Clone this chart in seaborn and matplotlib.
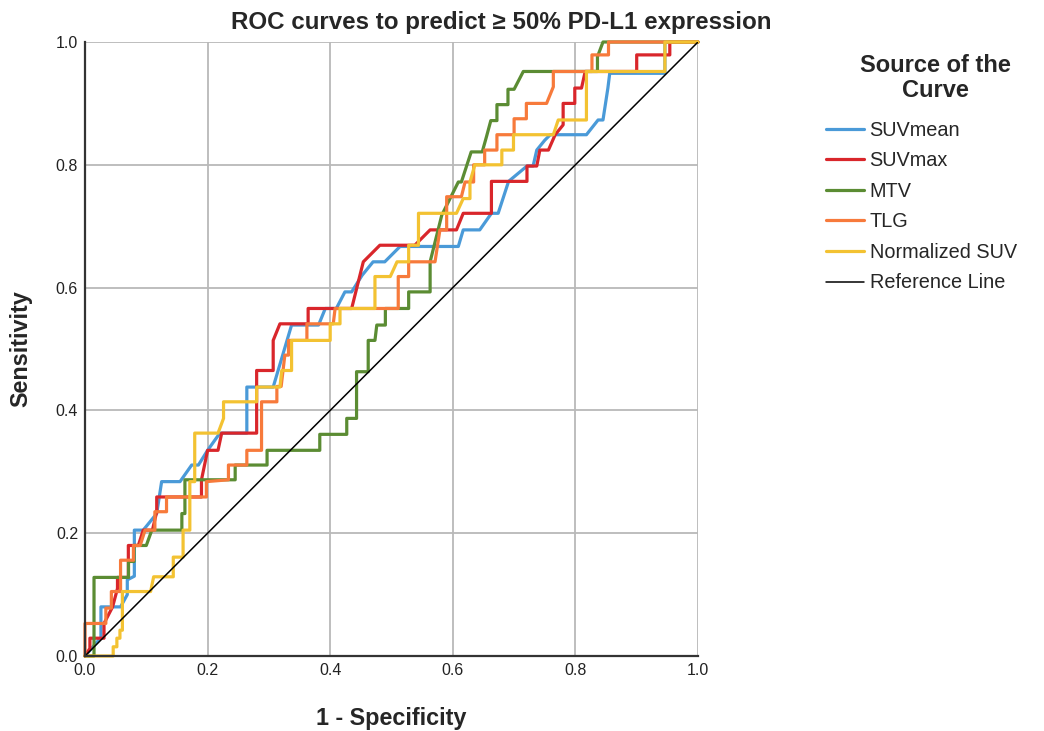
import numpy as np
import pandas as pd
import matplotlib
matplotlib.use("Agg")
import matplotlib.pyplot as plt
from matplotlib.lines import Line2D
import seaborn as sns

# ---------------- data ----------------
curve_names = ["SUVmean", "SUVmax", "MTV", "TLG", "Normalized SUV"]
curve_colors = ["#4a9ad8", "#d9262b", "#5b8c33", "#f77a3b", "#f3c232"]

suvmean_fpr = [0, 0.026, 0.026, 0.058, 0.069, 0.069, 0.0805, 0.0805, 0.095, 0.117, 0.125, 0.155, 0.174,
               0.185, 0.2, 0.22, 0.264, 0.264, 0.307, 0.337, 0.381, 0.392, 0.41, 0.424, 0.435, 0.452,
               0.47, 0.489, 0.514, 0.609, 0.617, 0.644, 0.663, 0.674, 0.691, 0.721, 0.731, 0.737, 0.75,
               0.759, 0.818, 0.837, 0.845, 0.853, 0.856, 0.946, 0.946, 1.0]
suvmean_tpr = [0, 0.03, 0.08, 0.08, 0.10, 0.124, 0.13, 0.205, 0.205, 0.232, 0.284, 0.284, 0.311,
               0.311, 0.335, 0.363, 0.363, 0.438, 0.438, 0.539, 0.539, 0.566, 0.566, 0.593, 0.593, 0.62,
               0.642, 0.642, 0.667, 0.667, 0.694, 0.694, 0.721, 0.721, 0.773, 0.798, 0.798, 0.824, 0.84,
               0.849, 0.849, 0.873, 0.873, 0.925, 0.949, 0.949, 1.0, 1.0]

suvmax_fpr = [0, 0.008, 0.008, 0.031, 0.031, 0.045, 0.053, 0.053, 0.0707, 0.0707, 0.087, 0.095, 0.11,
              0.117, 0.117, 0.19, 0.19, 0.2, 0.217, 0.223, 0.28, 0.28, 0.307, 0.307, 0.318, 0.364, 0.364,
              0.435, 0.454, 0.481, 0.538, 0.563, 0.606, 0.617, 0.663, 0.663, 0.721, 0.721, 0.737, 0.742,
              0.756, 0.767, 0.78, 0.78, 0.799, 0.799, 0.81, 0.816, 0.9, 0.9, 0.954, 0.954, 1.0]
suvmax_tpr = [0, 0.0125, 0.029, 0.029, 0.053, 0.08, 0.11, 0.128, 0.128, 0.18, 0.18, 0.205, 0.205,
              0.235, 0.259, 0.259, 0.287, 0.335, 0.335, 0.363, 0.363, 0.465, 0.465, 0.514, 0.541, 0.541, 0.566,
              0.566, 0.642, 0.669, 0.669, 0.694, 0.694, 0.721, 0.721, 0.773, 0.773, 0.798, 0.798, 0.824,
              0.824, 0.849, 0.865, 0.9, 0.9, 0.925, 0.925, 0.952, 0.952, 0.979, 0.979, 1.0, 1.0]

mtv_fpr = [0, 0.0147, 0.0147, 0.071, 0.071, 0.08, 0.08, 0.1, 0.109, 0.158, 0.158, 0.163, 0.163, 0.245,
           0.245, 0.297, 0.297, 0.383, 0.383, 0.427, 0.427, 0.443, 0.443, 0.462, 0.462, 0.473, 0.476, 0.49,
           0.49, 0.528, 0.528, 0.563, 0.563, 0.582, 0.609, 0.614, 0.63, 0.648, 0.655, 0.662, 0.672, 0.672,
           0.69, 0.69, 0.70, 0.715, 0.836, 0.836, 0.845, 1.0]
mtv_tpr = [0, 0, 0.128, 0.128, 0.154, 0.154, 0.18, 0.18, 0.205, 0.205, 0.232, 0.232, 0.287, 0.287,
           0.311, 0.311, 0.335, 0.335, 0.361, 0.361, 0.387, 0.387, 0.463, 0.463, 0.514, 0.514, 0.539, 0.539,
           0.566, 0.566, 0.593, 0.593, 0.642, 0.718, 0.772, 0.772, 0.821, 0.821, 0.846, 0.872, 0.872, 0.898,
           0.898, 0.923, 0.923, 0.952, 0.952, 0.976, 1.0, 1.0]

tlg_fpr = [0, 0, 0.034, 0.034, 0.043, 0.043, 0.058, 0.058, 0.079, 0.079, 0.09, 0.098, 0.114, 0.114, 0.133,
           0.133, 0.198, 0.198, 0.234, 0.234, 0.264, 0.264, 0.288, 0.288, 0.313, 0.313, 0.32, 0.326, 0.332,
           0.332, 0.362, 0.362, 0.405, 0.408, 0.511, 0.511, 0.528, 0.528, 0.571, 0.579, 0.59, 0.59, 0.614,
           0.62, 0.634, 0.634, 0.652, 0.652, 0.672, 0.672, 0.70, 0.70, 0.72, 0.72, 0.753, 0.764, 0.764,
           0.827, 0.827, 0.854, 0.854, 1.0]
tlg_tpr = [0, 0.053, 0.053, 0.078, 0.078, 0.105, 0.105, 0.156, 0.156, 0.18, 0.18, 0.205, 0.205, 0.235, 0.235,
           0.259, 0.259, 0.284, 0.287, 0.311, 0.311, 0.335, 0.335, 0.414, 0.414, 0.439, 0.439, 0.49, 0.49,
           0.514, 0.514, 0.541, 0.541, 0.566, 0.566, 0.618, 0.618, 0.642, 0.642, 0.694, 0.694, 0.748, 0.748,
           0.772, 0.772, 0.80, 0.80, 0.824, 0.824, 0.849, 0.849, 0.875, 0.875, 0.90, 0.90, 0.927, 0.952,
           0.952, 0.979, 0.979, 1.0, 1.0]

nsuv_fpr = [0, 0.046, 0.046, 0.052, 0.052, 0.057, 0.057, 0.061, 0.061, 0.107, 0.112, 0.144, 0.144, 0.16,
            0.16, 0.171, 0.171, 0.179, 0.179, 0.217, 0.226, 0.226, 0.28, 0.28, 0.318, 0.321, 0.337, 0.337,
            0.4, 0.4, 0.416, 0.416, 0.473, 0.473, 0.498, 0.509, 0.528, 0.528, 0.544, 0.544, 0.606, 0.617,
            0.628, 0.628, 0.636, 0.68, 0.68, 0.699, 0.699, 0.764, 0.772, 0.818, 0.818, 0.946, 0.946, 1.0]
nsuv_tpr = [0, 0, 0.015, 0.015, 0.029, 0.029, 0.042, 0.042, 0.105, 0.105, 0.129, 0.129, 0.161, 0.161,
            0.205, 0.205, 0.284, 0.284, 0.363, 0.363, 0.387, 0.414, 0.414, 0.438, 0.438, 0.465, 0.465, 0.514,
            0.514, 0.541, 0.541, 0.566, 0.566, 0.618, 0.618, 0.642, 0.642, 0.669, 0.669, 0.721, 0.721, 0.745,
            0.745, 0.772, 0.80, 0.80, 0.824, 0.824, 0.849, 0.849, 0.873, 0.873, 0.952, 0.952, 1.0, 1.0]

ref_x = [0, 1]
ref_y = [0, 1]

tick_values = [0.0, 0.2, 0.4, 0.6, 0.8, 1.0]
tick_labels = ["0.0", "0.2", "0.4", "0.6", "0.8", "1.0"]

# ---------------- build long table ----------------
series = [(suvmean_fpr, suvmean_tpr), (suvmax_fpr, suvmax_tpr), (mtv_fpr, mtv_tpr),
          (tlg_fpr, tlg_tpr), (nsuv_fpr, nsuv_tpr)]
frames = []
for name, (fx, ty) in zip(curve_names, series):
    frames.append(pd.DataFrame({"fpr": fx, "tpr": ty, "curve": name, "step": range(len(fx))}))
df = pd.concat(frames, ignore_index=True)

# ---------------- style ----------------
sns.set_theme(style="whitegrid")
plt.rcParams["font.family"] = ["Liberation Sans", "DejaVu Sans"]

fig = plt.figure(figsize=(10.44, 7.31), dpi=100)
ax = fig.add_axes([85 / 1044, 75 / 731, 613 / 1044, 614 / 731])

palette = dict(zip(curve_names, curve_colors))
for name in curve_names:
    sub = df[df["curve"] == name]
    sns.lineplot(data=sub, x="fpr", y="tpr", color=palette[name], estimator=None, sort=False,
                 lw=2.3, ax=ax, legend=False, clip_on=False, zorder=3)
sns.lineplot(x=ref_x, y=ref_y, color="black", lw=1.1, ax=ax, legend=False, zorder=4)

ax.set_xlim(0, 1)
ax.set_ylim(0, 1)
ax.set_xticks(tick_values)
ax.set_yticks(tick_values)
ax.set_xticklabels(tick_labels, fontsize=11.5)
ax.set_yticklabels(tick_labels, fontsize=11.5)
ax.tick_params(length=0, pad=5, colors="#222222")
ax.set_facecolor("white")
ax.grid(True, color="#b9b9b9", lw=1.3)
for s in ["top", "right"]:
    ax.spines[s].set_visible(False)
for s in ["left", "bottom"]:
    ax.spines[s].set_color("#333333")
    ax.spines[s].set_linewidth(1.6)
    ax.spines[s].set_zorder(5)

ax.set_xlabel("1 - Specificity", fontsize=16.8, fontweight="bold", labelpad=21)
ax.set_ylabel("Sensitivity", fontsize=16.8, fontweight="bold", labelpad=17)
fig.text(501 / 1044, 1 - 22 / 731, "ROC curves to predict \u2265 50% PD-L1 expression",
         fontsize=17.4, fontweight="bold", ha="center", va="center")

# legend title (placed like the reference) and entries
fig.text(935 / 1044, 1 - 78 / 731, "Source of the\nCurve", fontsize=17, fontweight="bold",
         ha="center", va="center", multialignment="center", linespacing=1.12)

handles = [Line2D([0], [0], color=c, lw=2.3) for c in curve_colors]
handles.append(Line2D([0], [0], color="black", lw=1.1))
labels = curve_names + ["Reference Line"]
leg = fig.legend(handles, labels, loc="upper left", bbox_to_anchor=(0.774, 1 - 103 / 731),
                 frameon=False, fontsize=14.3,
                 handlelength=1.9, handletextpad=0.3, labelspacing=0.58)

fig.savefig("out.png", dpi=100, facecolor="white")
